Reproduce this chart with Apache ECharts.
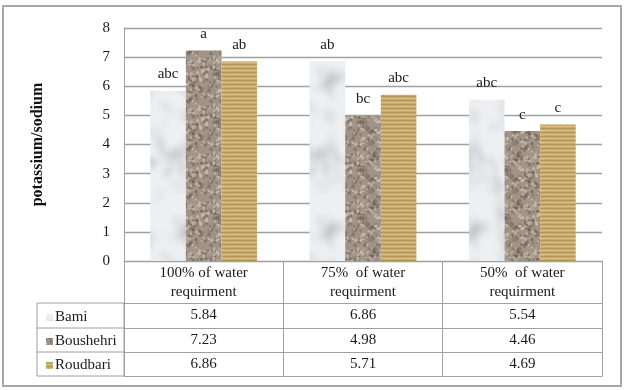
<!DOCTYPE html>
<html>
<head>
<meta charset="utf-8">
<script src="https://cdn.jsdelivr.net/npm/echarts@6/dist/echarts.min.js"></script>
<style>
  html, body { margin: 0; padding: 0; background: #fff; }
  #chart { width: 627px; height: 390px; }
</style>
</head>
<body>
<div id="chart"></div>
<script>
// data
var categories = ['100% of water\nrequirment', '75%  of water\nrequirment', '50%  of water\nrequirment'];
var seriesNames = ['Bami', 'Boushehri', 'Roudbari'];
var bami = [5.84, 6.86, 5.54];
var boushehri = [7.23, 4.98, 4.46];
var roudbari = [6.86, 5.71, 4.69];
// significance letters above the bars
var bamiLetters = ['abc', 'ab', 'abc'];
var boushehriLetters = ['a', 'bc', 'c'];
var roudbariLetters = ['ab', 'abc', 'c'];
var yTicks = [0, 8, 1]; // min, max, interval

var FONT = 'Liberation Serif';

// small seeded generator, only used for the bar textures
function rng(seed) {
    var s = seed;
    return function () { s = (s * 16807) % 2147483647; return s / 2147483647; };
}

// draw fn at (x,y) and at its wrapped copies so the tile repeats without seams
function wrapDraw(w, h, x, y, fn) {
    for (var dx = -1; dx <= 1; dx++) {
        for (var dy = -1; dy <= 1; dy++) {
            fn(x + dx * w, y + dy * h);
        }
    }
}

function marbleTexture() {
    var w = 72, h = 150;
    var c = document.createElement('canvas');
    c.width = w; c.height = h;
    var ctx = c.getContext('2d');
    var r = rng(17);
    ctx.fillStyle = '#eeeff1';
    ctx.fillRect(0, 0, w, h);
    ctx.filter = 'blur(3px)';
    for (var i = 0; i < 30; i++) {
        var a = 0.1 + r() * 0.2;
        var ex = r() * w, ey = r() * h, rx = 3 + r() * 10, ry = 2 + r() * 5, rot = r() * 3;
        ctx.fillStyle = 'rgba(150,154,160,' + a + ')';
        wrapDraw(w, h, ex, ey, function (x, y) {
            ctx.beginPath();
            ctx.ellipse(x, y, rx, ry, rot, 0, Math.PI * 2);
            ctx.fill();
        });
    }
    ctx.strokeStyle = 'rgba(125,130,138,0.35)';
    ctx.lineWidth = 2;
    for (var j = 0; j < 7; j++) {
        var vx = r() * w, vy = r() * h, ex2 = r() * 20;
        wrapDraw(w, h, vx, vy, function (x, y) {
            ctx.beginPath();
            ctx.moveTo(x, y);
            ctx.bezierCurveTo(x + 10, y + 8, x - 6, y + 20, x + ex2, y + 30);
            ctx.stroke();
        });
    }
    ctx.filter = 'none';
    return c;
}

function graniteTexture() {
    var w = 48, h = 48;
    var c = document.createElement('canvas');
    c.width = w; c.height = h;
    var ctx = c.getContext('2d');
    var r = rng(91);
    ctx.fillStyle = '#a09488';
    ctx.fillRect(0, 0, w, h);
    var cols = ['#85776b', '#b9ad9f', '#917f74', '#c6baac', '#766a5e'];
    for (var i = 0; i < 220; i++) {
        var col = cols[Math.floor(r() * cols.length)];
        var ex = r() * w, ey = r() * h, rx = 0.8 + r() * 1.8, ry = 0.6 + r() * 1.2, rot = r() * 3;
        ctx.fillStyle = col;
        wrapDraw(w, h, ex, ey, function (x, y) {
            ctx.beginPath();
            ctx.ellipse(x, y, rx, ry, rot, 0, Math.PI * 2);
            ctx.fill();
        });
    }
    return c;
}

function wovenTexture() {
    var c = document.createElement('canvas');
    c.width = 6; c.height = 4;
    var ctx = c.getContext('2d');
    ctx.fillStyle = '#caad72';
    ctx.fillRect(0, 0, 6, 4);
    ctx.fillStyle = '#b59755';
    ctx.fillRect(0, 0, 6, 1);
    ctx.fillStyle = '#d7be88';
    ctx.fillRect(0, 2, 6, 1);
    ctx.fillStyle = '#bea063';
    ctx.fillRect(2, 1, 1, 1);
    ctx.fillRect(5, 3, 1, 1);
    return c;
}

var fills = [
    { image: marbleTexture(), repeat: 'repeat' },
    { image: graniteTexture(), repeat: 'repeat' },
    { image: wovenTexture(), repeat: 'repeat' }
];

var values = [bami, boushehri, roudbari];
var letters = [bamiLetters, boushehriLetters, roudbariLetters];

var lineColor = '#a0a0a0';
var textStyle = { fontFamily: FONT, fontSize: 15, color: '#1a1a1a' };

// table rows are extra category axes under the plot
var rowOffsets = [42, 67, 91];
var rowHeights = [25, 24, 24];
var xAxes = [{
    type: 'category',
    data: categories,
    axisLine: { lineStyle: { color: lineColor } },
    axisTick: { show: true, length: 42, lineStyle: { color: lineColor } },
    axisLabel: Object.assign({ margin: 3, lineHeight: 19, interval: 0 }, textStyle)
}];
for (var k = 0; k < 3; k++) {
    xAxes.push({
        type: 'category',
        position: 'bottom',
        offset: rowOffsets[k],
        data: values[k].map(function (v) { return v.toFixed(2); }),
        axisLine: { lineStyle: { color: lineColor } },
        axisTick: { show: true, length: rowHeights[k], lineStyle: { color: lineColor } },
        axisLabel: Object.assign({ margin: 5, interval: 0 }, textStyle)
    });
}
xAxes.push({
    type: 'category',
    position: 'bottom',
    offset: 115,
    data: categories,
    axisLine: { lineStyle: { color: lineColor } },
    axisTick: { show: false },
    axisLabel: { show: false }
});

var series = seriesNames.map(function (name, i) {
    return {
        name: name,
        type: 'bar',
        xAxisIndex: 0,
        barGap: 0,
        barCategoryGap: '33%',
        itemStyle: { color: fills[i] },
        label: Object.assign({
            show: true,
            position: 'top',
            distance: 9,
            formatter: function (p) { return letters[i][p.dataIndex]; }
        }, textStyle),
        data: values[i]
    };
});

var chart = echarts.init(document.getElementById('chart'));
chart.setOption({
    animation: false,
    backgroundColor: '#fff',
    grid: { left: 124, right: 25, top: 28, bottom: 129 },
    legend: {
        orient: 'vertical',
        left: 41,
        top: 305,
        itemWidth: 7,
        itemHeight: 7,
        itemGap: 9,
        selectedMode: false,
        icon: 'rect',
        textStyle: { fontFamily: FONT, fontSize: 15, color: '#1a1a1a', padding: [0, 0, 0, -3] },
        data: seriesNames
    },
    xAxis: xAxes,
    yAxis: {
        type: 'value',
        min: yTicks[0],
        max: yTicks[1],
        interval: yTicks[2],
        name: 'potassium/sodium',
        nameLocation: 'middle',
        nameGap: 78,
        nameTextStyle: { fontFamily: FONT, fontSize: 16, fontWeight: 'bold', color: '#111' },
        axisLine: { show: true, lineStyle: { color: lineColor } },
        axisTick: { show: false },
        axisLabel: Object.assign({ margin: 14 }, textStyle),
        splitLine: { lineStyle: { color: lineColor, width: 1.3 } }
    },
    graphic: [
        {
            type: 'rect',
            shape: { x: 3, y: 6, width: 618, height: 380 },
            style: { fill: 'none', stroke: '#a8a8a8', lineWidth: 2 },
            silent: true
        },
        {
            type: 'polyline',
            shape: { points: [[124, 303], [37, 303], [37, 376], [124, 376]] },
            style: { fill: 'none', stroke: lineColor, lineWidth: 1 },
            silent: true
        },
        {
            type: 'line',
            shape: { x1: 37, y1: 328, x2: 124, y2: 328 },
            style: { stroke: lineColor, lineWidth: 1 },
            silent: true
        },
        {
            type: 'line',
            shape: { x1: 37, y1: 352, x2: 124, y2: 352 },
            style: { stroke: lineColor, lineWidth: 1 },
            silent: true
        },
        {
            type: 'line',
            shape: { x1: 124, y1: 303, x2: 124, y2: 376 },
            style: { stroke: lineColor, lineWidth: 1 },
            silent: true
        }
    ],
    series: series
});
</script>
</body>
</html>
